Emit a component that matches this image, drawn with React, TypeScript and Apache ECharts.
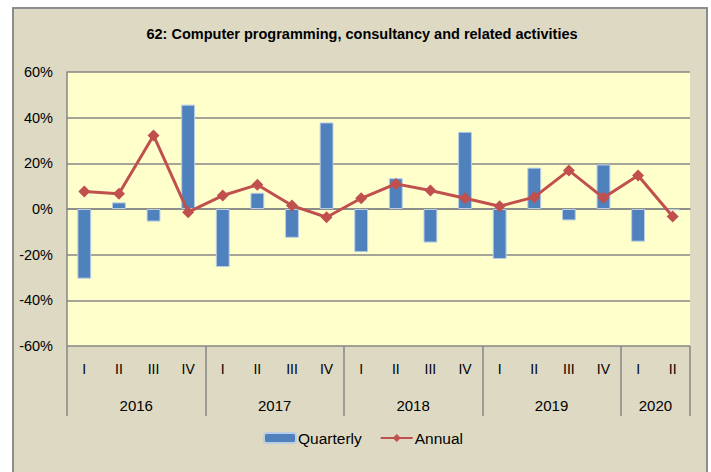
import React, { useEffect, useRef } from "react";
import * as echarts from "echarts";

const quarters = ["I", "II", "III", "IV", "I", "II", "III", "IV", "I", "II", "III", "IV", "I", "II", "III", "IV", "I", "II"];
const years = ["2016", "2017", "2018", "2019", "2020"];
const quartersPerYear = [4, 4, 4, 4, 2];
const quarterly = [-30.5, 2.9, -5.5, 45.7, -25.4, 7.1, -12.6, 37.9, -18.9, 13.5, -14.7, 33.8, -21.9, 18.1, -5.0, 19.5, -14.3, -0.6];
const annual = [7.7, 6.7, 32.2, -1.4, 5.9, 10.6, 1.5, -3.6, 4.7, 11.0, 8.1, 4.7, 1.2, 5.2, 16.9, 4.9, 14.7, -3.3];
const yTicks = { min: -60, max: 60, interval: 20 };

const FONT = "Liberation Sans, Arial, sans-serif";

export default function App() {
  const ref = useRef<HTMLDivElement>(null);
  useEffect(() => {
    if (!ref.current) return;
    const chart = echarts.init(ref.current, undefined, { renderer: "svg" });

    const boundaries = new Set<number>();
    const yearMid: Record<number, string> = {};
    let acc = 0;
    quartersPerYear.forEach((n, i) => {
      boundaries.add(acc);
      yearMid[acc + n / 2] = years[i];
      acc += n;
    });

    chart.setOption({
      animation: false,
      backgroundColor: "#ffffff",
      graphic: [
        {
          type: "rect",
          z: -10,
          shape: { x: 13, y: 8, width: 694, height: 480 },
          style: { fill: "#DDD9C3", stroke: "#8C8C8C", lineWidth: 2 },
        },
      ],
      title: {
        text: "62: Computer programming, consultancy and related activities",
        left: 357,
        textAlign: "center",
        top: 21,
        textStyle: { fontFamily: FONT, fontSize: 14.5, fontWeight: "bold", color: "#000" },
      },
      legend: {
        bottom: 21,
        left: 258,
        itemWidth: 32,
        itemHeight: 10,
        itemGap: 18,
        textStyle: { fontFamily: FONT, fontSize: 15.5, color: "#000", padding: [0, 0, 0, -3] },
        data: ["Quarterly", "Annual"],
      },
      grid: {
        left: 67,
        right: 21,
        top: 72,
        bottom: 126,
        show: true,
        backgroundColor: "#FFFFCC",
        borderWidth: 0,
      },
      xAxis: [
        {
          type: "category",
          data: quarters,
          position: "bottom",
          axisLine: { show: true, lineStyle: { color: "#868686", width: 1.5 } },
          axisTick: { show: false },
          axisLabel: { margin: 16, fontFamily: FONT, fontSize: 14, color: "#000", interval: 0 },
        },
        {
          type: "category",
          data: quarters,
          position: "bottom",
          axisLine: { show: false },
          axisTick: {
            show: true,
            length: 70,
            interval: (idx: number) => boundaries.has(idx),
            lineStyle: { color: "#868686", width: 1.5 },
          },
          axisLabel: { show: false },
        },
        {
          type: "value",
          min: 0,
          max: quarters.length,
          interval: 1,
          position: "bottom",
          axisLine: { show: false },
          axisTick: { show: false },
          splitLine: { show: false },
          axisLabel: {
            margin: 52,
            fontFamily: FONT,
            fontSize: 15,
            color: "#000",
            showMinLabel: true,
            showMaxLabel: true,
            formatter: (v: number) => yearMid[v] ?? "",
          },
        },
      ],
      yAxis: {
        type: "value",
        min: yTicks.min,
        max: yTicks.max,
        interval: yTicks.interval,
        axisLine: { show: true, lineStyle: { color: "#868686", width: 1.5 } },
        axisTick: { show: false },
        splitLine: { show: true, lineStyle: { color: "#868686", width: 1.5 } },
        axisLabel: {
          margin: 14,
          fontFamily: FONT,
          fontSize: 14.5,
          color: "#000",
          formatter: (v: number) => `${v}%`,
        },
      },
      series: [
        {
          name: "Quarterly",
          type: "bar",
          xAxisIndex: 0,
          data: quarterly,
          barWidth: "40%",
          itemStyle: { color: "#4F81BD", borderColor: "#B9CDE5", borderWidth: 1 },
          z: 2,
        },
        {
          name: "Annual",
          type: "line",
          xAxisIndex: 0,
          data: annual,
          symbol: "diamond",
          symbolSize: 12,
          lineStyle: { color: "#C0504D", width: 3 },
          itemStyle: { color: "#C0504D" },
          z: 3,
        },
      ],
    });
    return () => chart.dispose();
  }, []);

  return (
    <div
      ref={ref}
      style={{ position: "absolute", left: 0, top: 0, width: 711, height: 472 }}
    />
  );
}
